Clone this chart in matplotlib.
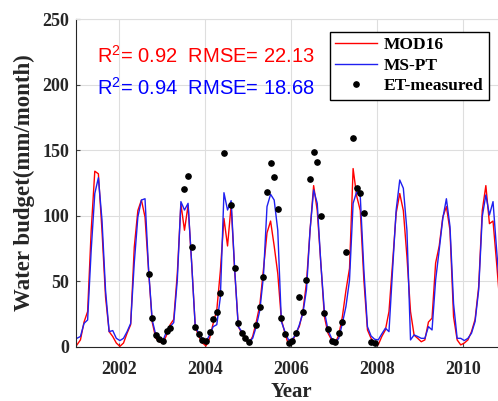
import numpy as np
import matplotlib
matplotlib.use('Agg')
import matplotlib.pyplot as plt

plt.rcParams['mathtext.fontset'] = 'custom'
plt.rcParams['mathtext.rm'] = 'Liberation Sans'

# monthly values, Jan 2001 onwards
mod16 = [1.5, 5.4, 19, 27, 89, 134, 132, 89, 38, 11.7, 8, 3,
         0.5, 3, 10.5, 17, 76, 104, 112, 99, 58, 19, 6.6, 4,
         3, 9, 17, 21, 56, 109, 89, 108, 64, 15.5, 8, 3,
         0.8, 6.6, 18, 28, 58, 98, 77, 108, 58, 15.5, 10.5, 5.4,
         3, 8, 19, 32, 59, 87, 96, 77, 56, 21, 10.5, 1.6,
         3, 10.5, 15.5, 27, 49, 89, 123, 104, 64, 23, 10.5, 5.4,
         3, 9, 23, 43, 60, 136, 115, 104, 51, 13, 6.6, 3,
         1.6, 8, 13, 27, 64, 102, 117, 104, 69, 27, 9, 6.6,
         4, 5.4, 19, 22, 64, 77, 99, 107, 89, 23, 5.4, 1.6,
         3, 5.4, 11.7, 21, 46, 104, 123, 94, 96, 64, 30]
ms_pt = [6.6, 8, 18, 20.6, 74, 117, 129, 97, 43, 11.7, 12.5, 6.6,
         4.9, 6.6, 11.7, 18, 64, 99, 112, 113, 58.7, 20.6, 9.2, 5.9,
         4.9, 11.7, 15.5, 18.6, 51, 110.8, 104.4, 109.5, 63.8, 15.5, 10.5, 5.9,
         4, 9.2, 15.5, 17, 38, 117.6, 104.4, 111.5, 58.7, 15.5, 11.7, 6.6,
         4, 6.6, 15.5, 28, 53.6, 107, 116.4, 112, 89, 19.4, 11.7, 5.4,
         5.9, 9.2, 16.8, 25.7, 43.5, 89, 119.7, 109.5, 63.8, 27, 13, 6.6,
         3.4, 6.6, 18, 30.8, 51, 109.5, 118.4, 114.6, 58.7, 15.5, 8.4, 5.9,
         5.4, 10, 14.3, 11.7, 58.7, 104.4, 127.3, 121, 89, 5.4, 9.2, 8,
         6.6, 6.6, 15.5, 13, 51, 74, 98, 113, 92, 33, 6.6, 6.6,
         4.9, 6.6, 10.5, 19.4, 43.5, 99.4, 115.9, 100.6, 110.8, 74, 40]

# ET measurements, Sep 2002 - Dec 2007 (nan = no data)
nan = np.nan
et_start = 20
et_measured = [56, 22, 9.5, 6, 4.5, 12.4, 14.5, nan, nan, nan,
               120.7, 130.6, 76, 15.5, 9.9, 5.3, 4.5, 11.5, 21, 27,
               41, 147.6, nan, 108, 60, 18, 10.4, 7, 3.6, nan,
               16.8, 30.7, 53, 118.4, 140.5, 129.8, 105, 22, 10, 2.8,
               4.8, 11, 38.3, 27, 51, 127.8, 148.4, 140.8, 100, 26.2,
               13.5, 4.8, 3.6, 10.4, 18.8, 72.7, nan, 159, 121, 117,
               102, nan, 3.6, 2.8]

t = 2001.02 + np.arange(len(mod16)) / 12
t_et = 2001.02 + (et_start + np.arange(len(et_measured))) / 12

fig = plt.figure(figsize=(4.98, 4.01), dpi=100)
ax = fig.add_axes([0.1526, 0.1347, 0.8645, 0.8179])

ax.plot(t, mod16, color='red', lw=1, label='MOD16')
ax.plot(t, ms_pt, color='#2020f0', lw=1, label='MS-PT')
ax.plot(t_et, et_measured, 'o', color='black', ms=3.8, label='ET-measured')

ax.set_xlim(2001, 2011)
ax.set_ylim(0, 250)
ax.set_xticks([2002, 2004, 2006, 2008, 2010])
ax.set_yticks([0, 50, 100, 150, 200, 250])
ax.grid(True, color='#dedede', lw=0.8)
ax.set_axisbelow(True)
ax.tick_params(direction='in', length=3, color='#444444')
ax.tick_params(axis='x', pad=10)
ax.tick_params(axis='y', pad=5)
for lab in ax.get_xticklabels() + ax.get_yticklabels():
    lab.set_family('Liberation Serif')
    lab.set_fontweight('bold')
    lab.set_fontsize(13)
    lab.set_color('#262626')
ax.spines['top'].set_color('#dedede')
ax.spines['left'].set_color('#262626')
ax.spines['bottom'].set_color('#262626')

ax.text(2001.49, 217, r'R$^{\mathregular{2}}$= 0.92  RMSE= 22.13', color='red',
        fontsize=14.5, family='Liberation Sans')
ax.text(2001.49, 192, r'R$^{\mathregular{2}}$= 0.94  RMSE= 18.68', color='blue',
        fontsize=14.5, family='Liberation Sans')

leg = ax.legend(loc='upper right', bbox_to_anchor=(489 / 498, 1 - 32 / 401),
                bbox_transform=fig.transFigure, fancybox=False, framealpha=1,
                edgecolor='black', handlelength=2.4, handletextpad=0.4,
                labelspacing=0.25, borderpad=0.3, borderaxespad=0,
                prop={'family': 'Liberation Serif', 'weight': 'bold', 'size': 12.5})
leg.get_frame().set_linewidth(1)

fig.text(24 / 498, 1 - 183 / 401, 'Water budget(mm/month)', rotation=90,
         ha='center', va='center', family='Liberation Serif', fontweight='bold',
         fontsize=16.5, color='#262626')
fig.text(291 / 498, 1 - 392 / 401, 'Year', ha='center', va='center',
         family='Liberation Serif', fontweight='bold', fontsize=15, color='#262626')

fig.savefig('out.png', dpi=100)
